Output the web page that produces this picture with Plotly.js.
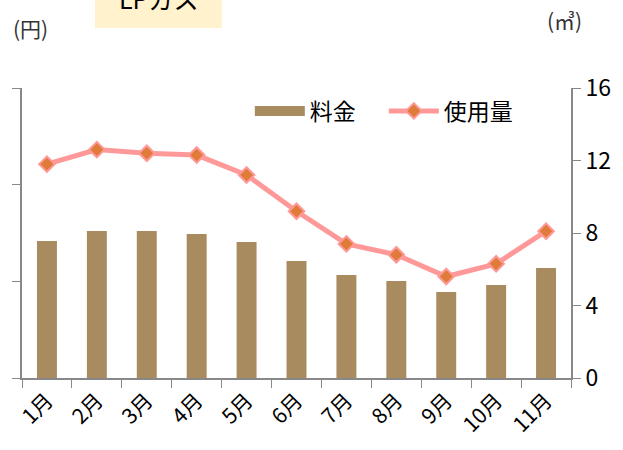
<!DOCTYPE html>
<html><head><meta charset="utf-8">
<script src="https://cdn.plot.ly/plotly-3.0.1.min.js"></script>
<style>html,body{margin:0;padding:0;background:#fff;}#c{width:623px;height:450px;}</style>
</head><body><div id="c"></div>
<script>
const months = ['1月','2月','3月','4月','5月','6月','7月','8月','9月','10月','11月'];
const fee = [7090, 7600, 7600, 7450, 7030, 6050, 5330, 5020, 4450, 4810, 5690];
const usage = [11.8, 12.6, 12.4, 12.3, 11.2, 9.2, 7.4, 6.8, 5.6, 6.3, 8.1];
const usageTicks = [0, 4, 8, 12, 16];

const F = '"Noto Sans CJK JP", "Noto Sans", sans-serif';
const traces = [
  {type:'bar', x:months, y:fee, name:'料金', marker:{color:'#A88C5F'}, width:0.4, yaxis:'y', showlegend:false},
  {type:'scatter', mode:'lines', x:[null], y:[null], name:'料金　', line:{color:'#A88C5F', width:14}, yaxis:'y', showlegend:true},
  {type:'scatter', mode:'lines+markers', x:months, y:usage, name:'使用量', yaxis:'y2',
   line:{color:'#FF9999', width:5},
   marker:{symbol:'diamond', size:12, color:'#E07B39', line:{color:'#FF9999', width:2}}}
];
const layout = {
  width:623, height:450,
  margin:{l:22, r:52, t:88, b:72},
  paper_bgcolor:'#fff', plot_bgcolor:'#fff',
  font:{family:F, color:'#000', size:20},
  showlegend:true,
  legend:{orientation:'h', x:0.415, y:0.995, xanchor:'left', yanchor:'top', font:{size:23, family:F}, bgcolor:'rgba(0,0,0,0)', itemwidth:50, tracegroupgap:0},
  xaxis:{type:'category', range:[-0.5, 10.5], tickson:'boundaries', ticks:'outside', ticklen:8, tickcolor:'#888', showline:true, linecolor:'#888', linewidth:2, tickangle:-45, tickfont:{size:21, family:F}, showgrid:false, zeroline:false},
  yaxis:{range:[0,15000], dtick:5000, ticks:'outside', ticklen:8, tickcolor:'#888', showline:true, linecolor:'#888', linewidth:2, showticklabels:false, showgrid:false, zeroline:false},
  yaxis2:{overlaying:'y', side:'right', range:[0,16], tickvals:usageTicks, ticks:'outside', ticklen:8, tickcolor:'#888', showline:true, linecolor:'#888', linewidth:2, tickfont:{size:23, family:F}, showgrid:false, zeroline:false},
  shapes:[{type:'rect', xref:'paper', yref:'paper', x0:0.133, x1:0.364, y0:1.207, y1:1.35, fillcolor:'#FFF2CC', line:{width:0}, layer:'below'}],
  annotations:[
    {text:'LPガス', xref:'paper', yref:'paper', x:0.2485, y:1.31, xanchor:'center', yanchor:'middle', showarrow:false, font:{size:25, family:F, color:'#000'}},
    {text:'(円)', xref:'paper', yref:'paper', x:0.016, y:1.207, xanchor:'center', yanchor:'middle', showarrow:false, font:{size:21, family:F, color:'#333'}},
    {text:'(㎥)', xref:'paper', yref:'paper', x:0.989, y:1.234, xanchor:'center', yanchor:'middle', showarrow:false, font:{size:21, family:F, color:'#333'}}
  ]
};
Plotly.newPlot('c', traces, layout, {displayModeBar:false, staticPlot:true});
</script></body></html>
